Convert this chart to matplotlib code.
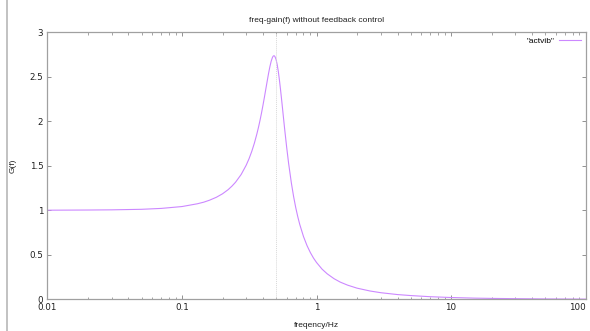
#!/usr/bin/env python

import matplotlib
matplotlib.use('Agg')
import matplotlib.pyplot as plt
from matplotlib.lines import Line2D
from matplotlib.ticker import FixedLocator, NullFormatter

# values
freq = [0.01, 0.02, 0.03, 0.05, 0.07, 0.1, 0.13, 0.145, 0.16, 0.18,
        0.2, 0.22, 0.235, 0.25, 0.275, 0.3, 0.315, 0.33, 0.345, 0.36,
        0.37, 0.38, 0.39, 0.4, 0.41, 0.42, 0.43, 0.44, 0.45, 0.46,
        0.47, 0.475, 0.48, 0.485, 0.49, 0.5, 0.51, 0.52, 0.53, 0.54,
        0.55, 0.56, 0.57, 0.58, 0.6, 0.62, 0.65, 0.675, 0.7, 0.725,
        0.75, 0.8, 0.85, 0.9, 0.95, 1.0, 1.1, 1.2, 1.35, 1.5,
        1.7, 2.0, 2.5, 3.0, 4.0, 5.0, 7.0, 10.0, 15.0, 20.0,
        30.0, 50.0, 100.0]
gain = [1.000, 1.002, 1.004, 1.010, 1.020, 1.041, 1.072, 1.090, 1.112, 1.145,
        1.184, 1.230, 1.270, 1.314, 1.400, 1.505, 1.578, 1.660, 1.752, 1.855,
        1.929, 2.008, 2.092, 2.180, 2.270, 2.362, 2.451, 2.536, 2.611, 2.672,
        2.714, 2.727, 2.733, 2.733, 2.726, 2.693, 2.634, 2.555, 2.459, 2.353,
        2.241, 2.127, 2.014, 1.905, 1.704, 1.526, 1.305, 1.155, 1.031, 0.928,
        0.841, 0.704, 0.602, 0.524, 0.462, 0.413, 0.338, 0.286, 0.231, 0.193,
        0.159, 0.125, 0.093, 0.074, 0.053, 0.042, 0.029, 0.020, 0.013, 0.010,
        0.007, 0.004, 0.002]

xticks = [0.01, 0.1, 1, 10, 100]
xticklabels = ['0.01', '0.1', '1', '10', '100']
yticks = [0, 0.5, 1, 1.5, 2, 2.5, 3]
yticklabels = ['0', '0.5', '1', '1.5', '2', '2.5', '3']
marker_f = 0.5

plt.rcParams['font.family'] = ['Liberation Sans', 'DejaVu Sans']
fs = 6
border = '#a0a0a0'
curve = '#cc88ff'
text_c = '#202020'

fig = plt.figure(figsize=(5.9, 3.31), dpi=100)
ax = fig.add_axes([0.0805, 0.0958, 0.912, 0.8075])

ax.plot(freq, gain, color=curve, lw=0.8, label='"actvib"')
ax.axvline(marker_f, color='#d8d8d8', lw=0.7, ls=(0, (1, 1)))

ax.set_xscale('log')
ax.set_xlim(0.01, 100)
ax.set_ylim(0, 3)
ax.set_xticks(xticks)
ax.set_xticklabels(xticklabels, family='DejaVu Sans')
ax.set_yticks(yticks)
ax.set_yticklabels(yticklabels, family='DejaVu Sans')
minors = [m * 10.0 ** e for e in range(-2, 2) for m in range(2, 10)]
ax.xaxis.set_minor_locator(FixedLocator(minors))
ax.xaxis.set_minor_formatter(NullFormatter())
ax.tick_params(which='both', direction='in', top=True, right=True,
               color='#808080', labelsize=6.3, labelcolor=text_c, pad=3)
ax.tick_params(which='major', length=3, width=0.6)
ax.tick_params(which='minor', length=1.8, width=0.5)
for s in ax.spines.values():
    s.set_color(border)
    s.set_linewidth(0.9)

# last label sits at the right edge, keep it inside the picture
ax.get_xticklabels()[-1].set_horizontalalignment('right')

ax.set_title('freq-gain(f) without feedback control', fontsize=fs,
             color=text_c, pad=7)
ax.set_xlabel('freqency/Hz', fontsize=fs, color=text_c, labelpad=7)
ax.set_ylabel('G(f)', fontsize=fs, color=text_c, labelpad=9)

ax.legend(loc='upper right', frameon=False, fontsize=fs, markerfirst=False,
          handlelength=2.6, borderaxespad=0.2, handletextpad=0.5)

# thin grey edge on the left of the picture
fig.add_artist(Line2D([0.012, 0.012], [0, 1], color='#b8b8b8', lw=1.2,
                      transform=fig.transFigure))

fig.savefig('out.png', dpi=100)
